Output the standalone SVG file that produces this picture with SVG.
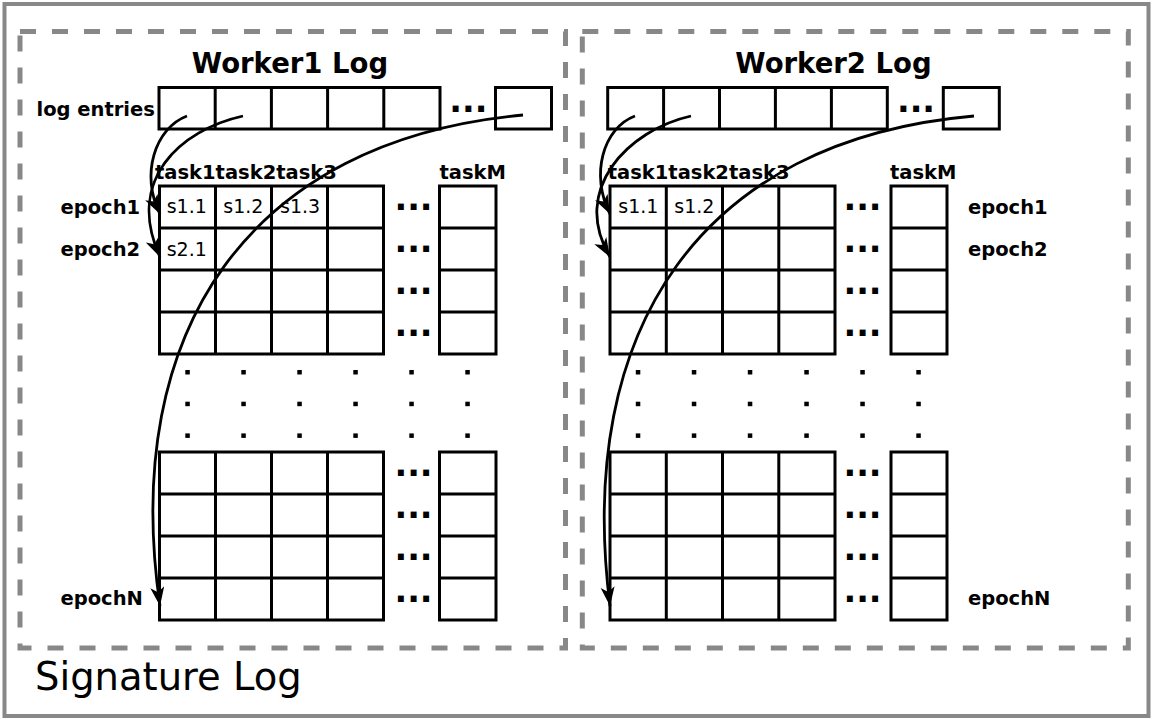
<svg xmlns="http://www.w3.org/2000/svg" width="1152" height="719" viewBox="0 0 1152 719">
  <defs>
    <style>
      .frame { fill: #fff; stroke: #888; stroke-width: 4; }
      .dash { fill: none; stroke: #888; stroke-width: 5; stroke-dasharray: 16 16; }
      .cell { fill: #fff; stroke: #000; stroke-width: 3; }
      .line { fill: none; stroke: #000; stroke-width: 3; }
      .title { font-family: "DejaVu Sans", "Liberation Sans", sans-serif; font-weight: bold; font-size: 27.5px; text-anchor: middle; }
      .lbl { font-family: "DejaVu Sans", "Liberation Sans", sans-serif; font-weight: bold; font-size: 19.5px; }
      .val { font-family: "DejaVu Sans", "Liberation Sans", sans-serif; font-size: 19px; }
      .ell { font-family: "DejaVu Sans", "Liberation Sans", sans-serif; font-weight: bold; font-size: 33.4px; text-anchor: middle; }
      .big { font-family: "DejaVu Sans", "Liberation Sans", sans-serif; font-size: 38.5px; }
      .arrow { fill: none; stroke: #000; stroke-width: 2.8; marker-end: url(#ah); }
      .dot { fill: #000; }
    </style>
    <marker id="ah" markerUnits="userSpaceOnUse" markerWidth="22" markerHeight="16" refX="19" refY="7" orient="auto">
      <path d="M0,0 L19,7 L0,14 L5,7 z" fill="#000"/>
    </marker>
  </defs>

  <!-- outer frame -->
  <g id="signature-log">
    <rect class="frame" x="4.5" y="4" width="1144" height="712"/>
    <text class="big" x="35" y="690">Signature Log</text>
  </g>

  <!-- worker 1 -->
  <g id="worker1">
    <rect class="dash" x="20" y="31.5" width="545.5" height="616.5"/>
    <text class="title" x="290" y="73.3">Worker1 Log</text>
  </g>

  <g id="worker1-log-entries">
    <text class="lbl" x="36.5" y="116">log entries</text>
    <rect class="cell" x="159" y="87.5" width="281" height="41.5"/>
    <path class="line" d="M215.2,87.5V129 M271.4,87.5V129 M327.6,87.5V129 M383.8,87.5V129"/>
    <text class="ell" x="468.3" y="111.5">...</text>
    <rect class="cell" x="495.5" y="87.5" width="56" height="41.5"/>
  </g>

  <g id="worker1-grid">
    <text class="lbl" x="155" y="178.5">task1task2task3</text>
    <text class="lbl" x="439.5" y="178.5">taskM</text>
    <text class="lbl" x="60.5" y="214">epoch1</text>
    <text class="lbl" x="60.5" y="256">epoch2</text>
    <text class="lbl" x="60.5" y="605">epochN</text>
    <!-- upper block -->
    <rect class="cell" x="159.5" y="186" width="224" height="168"/>
    <path class="line" d="M215.5,186V354 M271.5,186V354 M327.5,186V354 M159.5,228H383.5 M159.5,270H383.5 M159.5,312H383.5"/>
    <rect class="cell" x="439.5" y="186" width="56.5" height="168"/>
    <path class="line" d="M439.5,228H496 M439.5,270H496 M439.5,312H496"/>
    <text class="val" x="166.7" y="213.3">s1.1</text>
    <text class="val" x="223.3" y="213.3">s1.2</text>
    <text class="val" x="280" y="213.3">s1.3</text>
    <text class="val" x="166.7" y="256">s2.1</text>
    <text class="ell" x="413.5" y="210.4">...</text>
    <text class="ell" x="413.5" y="252.4">...</text>
    <text class="ell" x="413.5" y="294.4">...</text>
    <text class="ell" x="413.5" y="336.4">...</text>
    <!-- vertical continuation dots -->
    <g class="dot">
      <rect x="185.3" y="370" width="4.5" height="4.5"/><rect x="241.3" y="370" width="4.5" height="4.5"/><rect x="297.3" y="370" width="4.5" height="4.5"/><rect x="353.3" y="370" width="4.5" height="4.5"/><rect x="409.3" y="370" width="4.5" height="4.5"/><rect x="465.3" y="370" width="4.5" height="4.5"/>
      <rect x="185.3" y="401.7" width="4.5" height="4.5"/><rect x="241.3" y="401.7" width="4.5" height="4.5"/><rect x="297.3" y="401.7" width="4.5" height="4.5"/><rect x="353.3" y="401.7" width="4.5" height="4.5"/><rect x="409.3" y="401.7" width="4.5" height="4.5"/><rect x="465.3" y="401.7" width="4.5" height="4.5"/>
      <rect x="185.3" y="433.4" width="4.5" height="4.5"/><rect x="241.3" y="433.4" width="4.5" height="4.5"/><rect x="297.3" y="433.4" width="4.5" height="4.5"/><rect x="353.3" y="433.4" width="4.5" height="4.5"/><rect x="409.3" y="433.4" width="4.5" height="4.5"/><rect x="465.3" y="433.4" width="4.5" height="4.5"/>
    </g>
    <!-- lower block -->
    <rect class="cell" x="159.5" y="452" width="224" height="168"/>
    <path class="line" d="M215.5,452V620 M271.5,452V620 M327.5,452V620 M159.5,494H383.5 M159.5,536H383.5 M159.5,578H383.5"/>
    <rect class="cell" x="439.5" y="452" width="56.5" height="168"/>
    <path class="line" d="M439.5,494H496 M439.5,536H496 M439.5,578H496"/>
    <text class="ell" x="413.5" y="476.4">...</text>
    <text class="ell" x="413.5" y="518.4">...</text>
    <text class="ell" x="413.5" y="560.4">...</text>
    <text class="ell" x="413.5" y="602.4">...</text>
  </g>

  <!-- worker 2 -->
  <g id="worker2">
    <rect class="dash" x="582.3" y="31.5" width="546" height="616.5"/>
    <text class="title" x="833.5" y="73.3">Worker2 Log</text>
  </g>

  <g id="worker2-log-entries">
    <rect class="cell" x="607.7" y="87.5" width="279.6" height="41.5"/>
    <path class="line" d="M663.6,87.5V129 M719.5,87.5V129 M775.4,87.5V129 M831.4,87.5V129"/>
    <text class="ell" x="916" y="111.5">...</text>
    <rect class="cell" x="943.3" y="87.5" width="56" height="41.5"/>
  </g>

  <g id="worker2-grid">
    <text class="lbl" x="607.7" y="178.5">task1task2task3</text>
    <text class="lbl" x="890" y="178.5">taskM</text>
    <text class="lbl" x="968" y="214">epoch1</text>
    <text class="lbl" x="968" y="256">epoch2</text>
    <text class="lbl" x="968" y="605">epochN</text>
    <!-- upper block -->
    <rect class="cell" x="610" y="186" width="225" height="168"/>
    <path class="line" d="M666.3,186V354 M722.5,186V354 M778.8,186V354 M610,228H835 M610,270H835 M610,312H835"/>
    <rect class="cell" x="891" y="186" width="56" height="168"/>
    <path class="line" d="M891,228H947 M891,270H947 M891,312H947"/>
    <text class="val" x="618.3" y="213.3">s1.1</text>
    <text class="val" x="674.3" y="213.3">s1.2</text>
    <text class="ell" x="862.5" y="210.4">...</text>
    <text class="ell" x="862.5" y="252.4">...</text>
    <text class="ell" x="862.5" y="294.4">...</text>
    <text class="ell" x="862.5" y="336.4">...</text>
    <!-- vertical continuation dots -->
    <g class="dot">
      <rect x="635.8" y="370" width="4.5" height="4.5"/><rect x="691.8" y="370" width="4.5" height="4.5"/><rect x="747.8" y="370" width="4.5" height="4.5"/><rect x="804.3" y="370" width="4.5" height="4.5"/><rect x="860.3" y="370" width="4.5" height="4.5"/><rect x="916.3" y="370" width="4.5" height="4.5"/>
      <rect x="635.8" y="401.7" width="4.5" height="4.5"/><rect x="691.8" y="401.7" width="4.5" height="4.5"/><rect x="747.8" y="401.7" width="4.5" height="4.5"/><rect x="804.3" y="401.7" width="4.5" height="4.5"/><rect x="860.3" y="401.7" width="4.5" height="4.5"/><rect x="916.3" y="401.7" width="4.5" height="4.5"/>
      <rect x="635.8" y="433.4" width="4.5" height="4.5"/><rect x="691.8" y="433.4" width="4.5" height="4.5"/><rect x="747.8" y="433.4" width="4.5" height="4.5"/><rect x="804.3" y="433.4" width="4.5" height="4.5"/><rect x="860.3" y="433.4" width="4.5" height="4.5"/><rect x="916.3" y="433.4" width="4.5" height="4.5"/>
    </g>
    <!-- lower block -->
    <rect class="cell" x="610" y="452" width="225" height="168"/>
    <path class="line" d="M666.3,452V620 M722.5,452V620 M778.8,452V620 M610,494H835 M610,536H835 M610,578H835"/>
    <rect class="cell" x="891" y="452" width="56" height="168"/>
    <path class="line" d="M891,494H947 M891,536H947 M891,578H947"/>
    <text class="ell" x="862.5" y="476.4">...</text>
    <text class="ell" x="862.5" y="518.4">...</text>
    <text class="ell" x="862.5" y="560.4">...</text>
    <text class="ell" x="862.5" y="602.4">...</text>
  </g>

  <!-- log entry to epoch row connectors -->
  <g id="connectors">
    <path class="arrow" d="M187,116 C155,128 140,175 160,214"/>
    <path class="arrow" d="M243,116 C180,130 125,180 160,257"/>
    <path class="arrow" d="M523,115 C250,140 120,330 160,606"/>
    <path class="arrow" d="M635,116 C603,128 590,175 610,214"/>
    <path class="arrow" d="M691,116 C628,130 570,190 610,257"/>
    <path class="arrow" d="M974,116 C700,140 575,330 610,606"/>
  </g>
</svg>
